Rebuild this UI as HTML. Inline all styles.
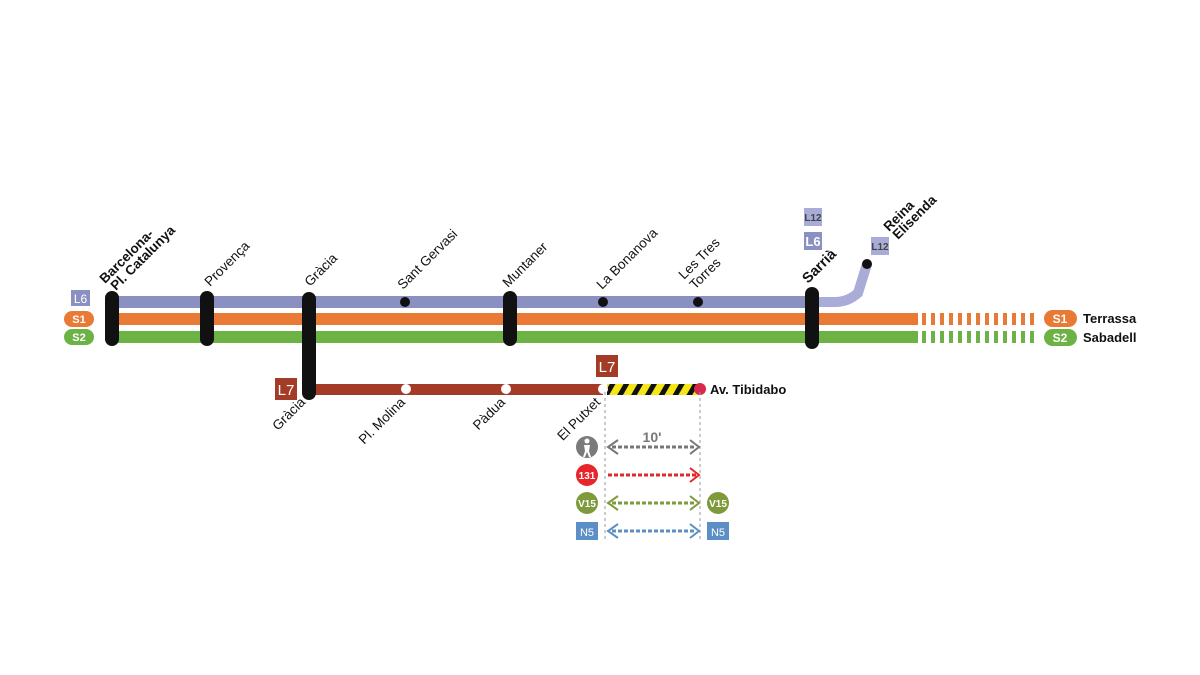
<!DOCTYPE html>
<html><head><meta charset="utf-8"><style>
html,body{margin:0;padding:0;background:#fff;}
svg{display:block;font-family:"Liberation Sans",Arial,sans-serif;}
</style></head><body>
<svg width="1200" height="675" viewBox="0 0 1200 675" xmlns="http://www.w3.org/2000/svg">
<defs>
<pattern id="hz" width="12" height="12" patternUnits="userSpaceOnUse" patternTransform="rotate(30)">
<rect width="12" height="12" fill="#f5e617"/><rect width="5" height="12" fill="#111"/>
</pattern>
</defs>
<rect width="1200" height="675" fill="#fff"/>
<rect x="112" y="296" width="700" height="12" fill="#8a90c2"/>
<path d="M812 302 L835 302 Q848 302 858 293 L867 264" stroke="#a8acd6" stroke-width="10" fill="none"/>
<rect x="112" y="313" width="806" height="12" fill="#e87a35"/>
<rect x="112" y="331" width="806" height="12" fill="#6cb244"/>
<g fill="#e87a35">
<rect x="922" y="313" width="4" height="12"/><rect x="931" y="313" width="4" height="12"/><rect x="940" y="313" width="4" height="12"/><rect x="949" y="313" width="4" height="12"/><rect x="958" y="313" width="4" height="12"/><rect x="967" y="313" width="4" height="12"/><rect x="976" y="313" width="4" height="12"/><rect x="985" y="313" width="4" height="12"/><rect x="994" y="313" width="4" height="12"/><rect x="1003" y="313" width="4" height="12"/><rect x="1012" y="313" width="4" height="12"/><rect x="1021" y="313" width="4" height="12"/><rect x="1030" y="313" width="4" height="12"/></g>
<g fill="#6cb244">
<rect x="922" y="331" width="4" height="12"/><rect x="931" y="331" width="4" height="12"/><rect x="940" y="331" width="4" height="12"/><rect x="949" y="331" width="4" height="12"/><rect x="958" y="331" width="4" height="12"/><rect x="967" y="331" width="4" height="12"/><rect x="976" y="331" width="4" height="12"/><rect x="985" y="331" width="4" height="12"/><rect x="994" y="331" width="4" height="12"/><rect x="1003" y="331" width="4" height="12"/><rect x="1012" y="331" width="4" height="12"/><rect x="1021" y="331" width="4" height="12"/><rect x="1030" y="331" width="4" height="12"/></g>
<rect x="309" y="384" width="294" height="11" fill="#a33b26"/>
<rect x="607" y="384" width="93" height="11" fill="url(#hz)"/>
<circle cx="700" cy="389" r="6" fill="#d9294a"/>
<circle cx="406" cy="389" r="5" fill="#fff"/>
<circle cx="506" cy="389" r="5" fill="#fff"/>
<circle cx="603" cy="389" r="5" fill="#fff"/>
<g fill="#111">
<rect x="105" y="291" width="14" height="55" rx="7"/>
<rect x="200" y="291" width="14" height="55" rx="7"/>
<rect x="302" y="292" width="14" height="108" rx="7"/>
<rect x="503" y="291" width="14" height="55" rx="7"/>
<rect x="805" y="287" width="14" height="62" rx="7"/>
<circle cx="405" cy="302" r="5"/><circle cx="603" cy="302" r="5"/><circle cx="698" cy="302" r="5"/><circle cx="867" cy="264" r="5"/>
</g>
<rect x="71" y="290" width="19" height="16" fill="#8a90c2"/><text x="80.5" y="303" font-size="12" fill="#fff" text-anchor="middle">L6</text>
<rect x="64" y="311" width="30" height="16" rx="8" fill="#e87a35"/><text x="79" y="323" font-size="11" font-weight="bold" fill="#fff" text-anchor="middle">S1</text>
<rect x="64" y="329" width="30" height="16" rx="8" fill="#6cb244"/><text x="79" y="341" font-size="11" font-weight="bold" fill="#fff" text-anchor="middle">S2</text>
<rect x="275" y="378" width="22" height="22" fill="#a33b26"/><text x="286" y="395" font-size="15" fill="#fff" text-anchor="middle">L7</text>
<rect x="596" y="355" width="22" height="22" fill="#a33b26"/><text x="607" y="372" font-size="15" fill="#fff" text-anchor="middle">L7</text>
<rect x="804" y="208" width="18" height="18" fill="#a8acd6"/><text x="813" y="221" font-size="10" font-weight="bold" fill="#444" text-anchor="middle">L12</text>
<rect x="804" y="232" width="18" height="18" fill="#8a90c2"/><text x="813" y="246" font-size="13" font-weight="bold" fill="#fff" text-anchor="middle">L6</text>
<rect x="871" y="237" width="18" height="18" fill="#a8acd6"/><text x="880" y="250" font-size="10" font-weight="bold" fill="#444" text-anchor="middle">L12</text>
<rect x="1044" y="310" width="33" height="17" rx="8.5" fill="#e87a35"/><text x="1060" y="323" font-size="12" font-weight="bold" fill="#fff" text-anchor="middle">S1</text>
<rect x="1044" y="329" width="33" height="17" rx="8.5" fill="#6cb244"/><text x="1060" y="342" font-size="12" font-weight="bold" fill="#fff" text-anchor="middle">S2</text>
<text x="1083" y="323" font-size="13" font-weight="bold" fill="#111">Terrassa</text>
<text x="1083" y="342" font-size="13" font-weight="bold" fill="#111">Sabadell</text>
<text x="710" y="394" font-size="13" font-weight="bold" fill="#111">Av. Tibidabo</text>
<g font-size="13.5" fill="#111">
<text transform="translate(105,284) rotate(-45)" font-weight="bold">Barcelona-</text>
<text transform="translate(116,291) rotate(-45)" font-weight="bold">Pl. Catalunya</text>
<text transform="translate(210,287) rotate(-45)">Provença</text>
<text transform="translate(310,287) rotate(-45)">Gràcia</text>
<text transform="translate(403,290) rotate(-45)">Sant Gervasi</text>
<text transform="translate(508,288) rotate(-45)">Muntaner</text>
<text transform="translate(602,290) rotate(-45)">La Bonanova</text>
<text transform="translate(684,280) rotate(-45)">Les Tres</text>
<text transform="translate(695,290) rotate(-45)">Torres</text>
<text transform="translate(808,284) rotate(-45)" font-weight="bold" font-size="14.5">Sarrià</text>
<text transform="translate(889,232) rotate(-45)" font-weight="bold">Reina</text>
<text transform="translate(898,240) rotate(-45)" font-weight="bold">Elisenda</text>
<text transform="translate(306,403) rotate(-45)" text-anchor="end">Gràcia</text>
<text transform="translate(406,403) rotate(-45)" text-anchor="end">Pl. Molina</text>
<text transform="translate(506,403) rotate(-45)" text-anchor="end">Pàdua</text>
<text transform="translate(601,403) rotate(-45)" text-anchor="end">El Putxet</text>
</g>
<line x1="605" y1="392" x2="605" y2="542" stroke="#999" stroke-width="1" stroke-dasharray="3,3"/>
<line x1="700" y1="392" x2="700" y2="542" stroke="#999" stroke-width="1" stroke-dasharray="3,3"/>
<text x="652" y="442" font-size="14" font-weight="bold" fill="#777" text-anchor="middle">10'</text>
<g stroke-width="3" fill="none" stroke-dasharray="4,2">
<line x1="612" y1="447" x2="696" y2="447" stroke="#777"/>
<line x1="608" y1="475" x2="696" y2="475" stroke="#e5262a"/>
<line x1="612" y1="503" x2="696" y2="503" stroke="#7e9a3a"/>
<line x1="612" y1="531" x2="696" y2="531" stroke="#5b8fc6"/>
</g>
<g fill="none" stroke-width="2">
<path d="M618 440 L608 447 L618 454 M690 440 L699 447 L690 454" stroke="#777"/>
<path d="M690 468 L699 475 L690 482" stroke="#e5262a"/>
<path d="M618 496 L608 503 L618 510 M690 496 L699 503 L690 510" stroke="#7e9a3a"/>
<path d="M618 524 L608 531 L618 538 M690 524 L699 531 L690 538" stroke="#5b8fc6"/>
</g>
<circle cx="587" cy="447" r="11" fill="#7a7a7a"/>
<circle cx="587" cy="441" r="2.5" fill="#fff"/><path d="M584 445 h6 l-1 6 l2 6 h-2 l-2 -5 l-2 5 h-2 l2 -6z" fill="#fff"/>
<circle cx="587" cy="475" r="11" fill="#e5262a"/><text x="587" y="479" font-size="10" font-weight="bold" fill="#fff" text-anchor="middle">131</text>
<circle cx="587" cy="503" r="11" fill="#7e9a3a"/><text x="587" y="507" font-size="10" font-weight="bold" fill="#fff" text-anchor="middle">V15</text>
<circle cx="718" cy="503" r="11" fill="#7e9a3a"/><text x="718" y="507" font-size="10" font-weight="bold" fill="#fff" text-anchor="middle">V15</text>
<rect x="576" y="522" width="22" height="18" fill="#5b8fc6"/><text x="587" y="536" font-size="11" fill="#fff" text-anchor="middle">N5</text>
<rect x="707" y="522" width="22" height="18" fill="#5b8fc6"/><text x="718" y="536" font-size="11" fill="#fff" text-anchor="middle">N5</text>
</svg>
</body></html>
